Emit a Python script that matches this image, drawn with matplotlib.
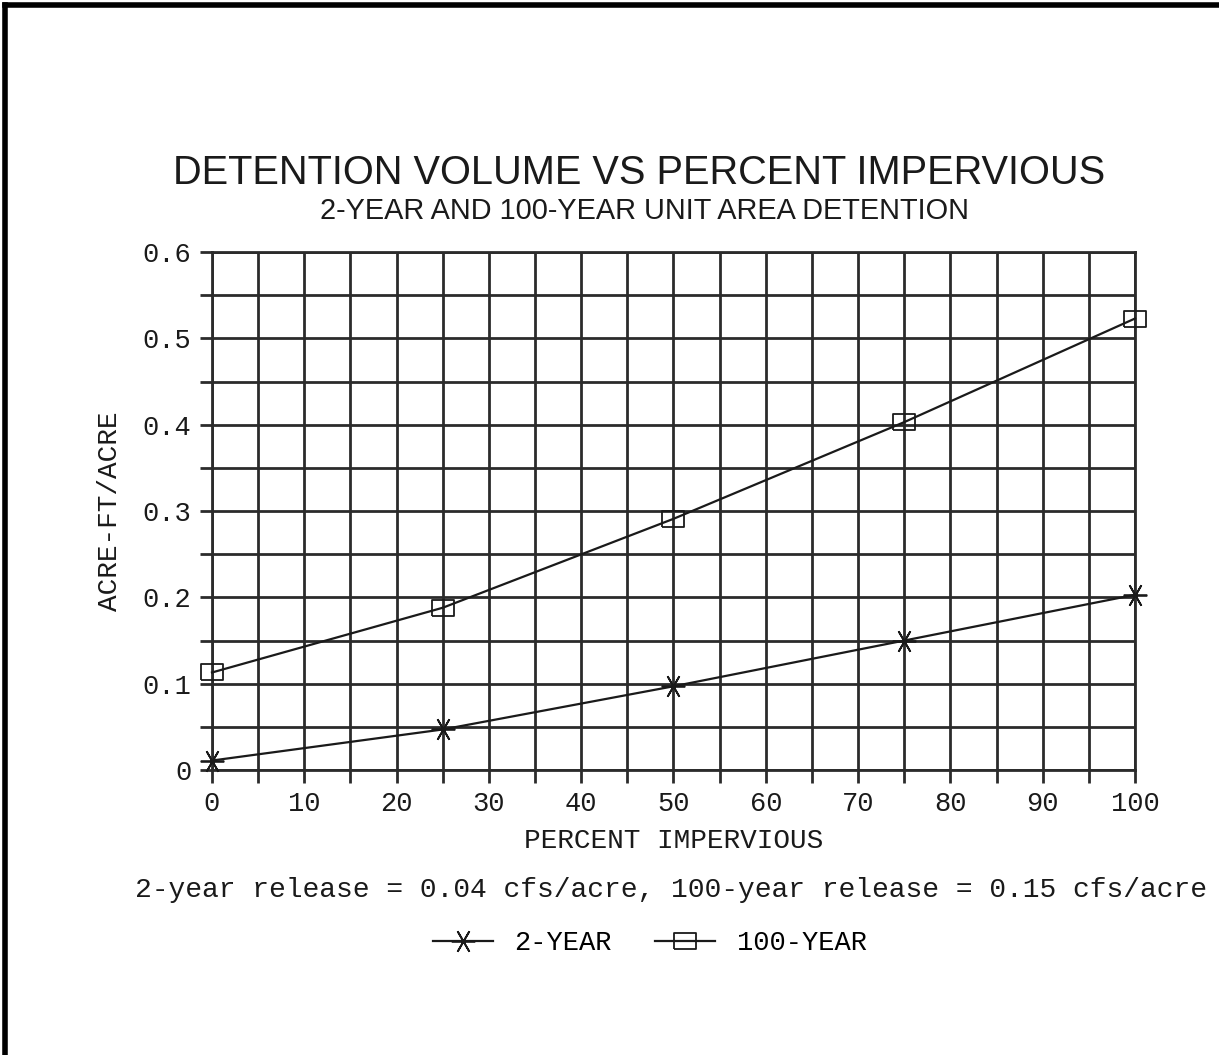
import numpy as np
import matplotlib
matplotlib.use('Agg')
import matplotlib.pyplot as plt
from matplotlib.lines import Line2D

# Data
pct_impervious = [0, 25, 50, 75, 100]
vol_2yr = [0.011, 0.047, 0.097, 0.150, 0.203]
vol_100yr = [0.113, 0.188, 0.291, 0.403, 0.523]
x_labels = ['0', '10', '20', '30', '40', '50', '60', '70', '80', '90', '100']
y_labels = ['0', '0.1', '0.2', '0.3', '0.4', '0.5', '0.6']

mono = 'Liberation Mono'
sans = 'Liberation Sans'
grid_col = '#2b2b2b'
ink = '#1a1a1a'

# slightly wide box marker like the plotter's square
box = [(-1, -0.75), (1, -0.75), (1, 0.75), (-1, 0.75), (-1, -0.75)]

fig = plt.figure(figsize=(12.19, 10.55), dpi=100)
ax = fig.add_axes([0.1739, 0.2701, 0.7572, 0.4910])

# Plot the two curves
ax.plot(pct_impervious, vol_2yr, color=ink, lw=1.6,
        marker=(6, 2, 90), ms=17, mew=1.3, label='2-YEAR', zorder=3,
        clip_on=False)
ax.plot(pct_impervious, vol_100yr, color=ink, lw=1.6,
        marker=box, ms=16, mfc='none', mec=ink, mew=1.3,
        label='100-YEAR', zorder=3, clip_on=False)

ax.set_xlim(0, 100)
ax.set_ylim(0, 0.6)

# grid every 5 % and every 0.05, labels every 10 and 0.1
ax.set_xticks(np.arange(0, 101, 5))
ax.set_xticklabels([x_labels[i // 2] if i % 2 == 0 else '' for i in range(21)])
ax.set_yticks(np.arange(0, 0.601, 0.05))
ax.set_yticklabels([y_labels[i // 2] if i % 2 == 0 else '' for i in range(13)])
ax.grid(True, color=grid_col, lw=2.0)
ax.tick_params(direction='out', length=9, width=2.0, color=grid_col,
               labelsize=19.5, pad=6)
for lbl in ax.get_xticklabels() + ax.get_yticklabels():
    lbl.set_fontfamily(mono)
    lbl.set_color(ink)
for sp in ax.spines.values():
    sp.set_color(grid_col)
    sp.set_linewidth(2.0)

ax.set_xlabel('PERCENT IMPERVIOUS', fontfamily=mono, fontsize=20,
              color=ink, labelpad=8)
ax.set_ylabel('ACRE-FT/ACRE', fontfamily=mono, fontsize=20,
              color=ink, labelpad=14)

# Titles
fig.text(639 / 1219, 1 - 173 / 1055, 'DETENTION VOLUME VS PERCENT IMPERVIOUS',
         fontfamily=sans, fontsize=28.6, color=ink, ha='center', va='center')
fig.text(644 / 1219, 1 - 211 / 1055, '2-YEAR AND 100-YEAR UNIT AREA DETENTION',
         fontfamily=sans, fontsize=20.8, color=ink, ha='center', va='center')

# Note under the chart
fig.text(671 / 1219, 1 - 890 / 1055,
         '2-year release = 0.04 cfs/acre, 100-year release = 0.15 cfs/acre',
         fontfamily=mono, fontsize=20.2, color=ink, ha='center', va='center')

fig.legend(loc='center', bbox_to_anchor=(650 / 1219, 1 - 943 / 1055), ncol=2,
           frameon=False, prop={'family': mono, 'size': 19.5},
           handlelength=2.2, columnspacing=1.6, handletextpad=0.8)

# Page border (top and left edges of the scanned frame)
fig.add_artist(Line2D([0.004, 1.0], [1 - 5 / 1055, 1 - 5 / 1055],
                      color='black', lw=4, transform=fig.transFigure))
fig.add_artist(Line2D([5 / 1219, 5 / 1219], [0, 1 - 5 / 1055],
                      color='black', lw=4, transform=fig.transFigure))

fig.savefig('out.png', dpi=100, facecolor='white')
